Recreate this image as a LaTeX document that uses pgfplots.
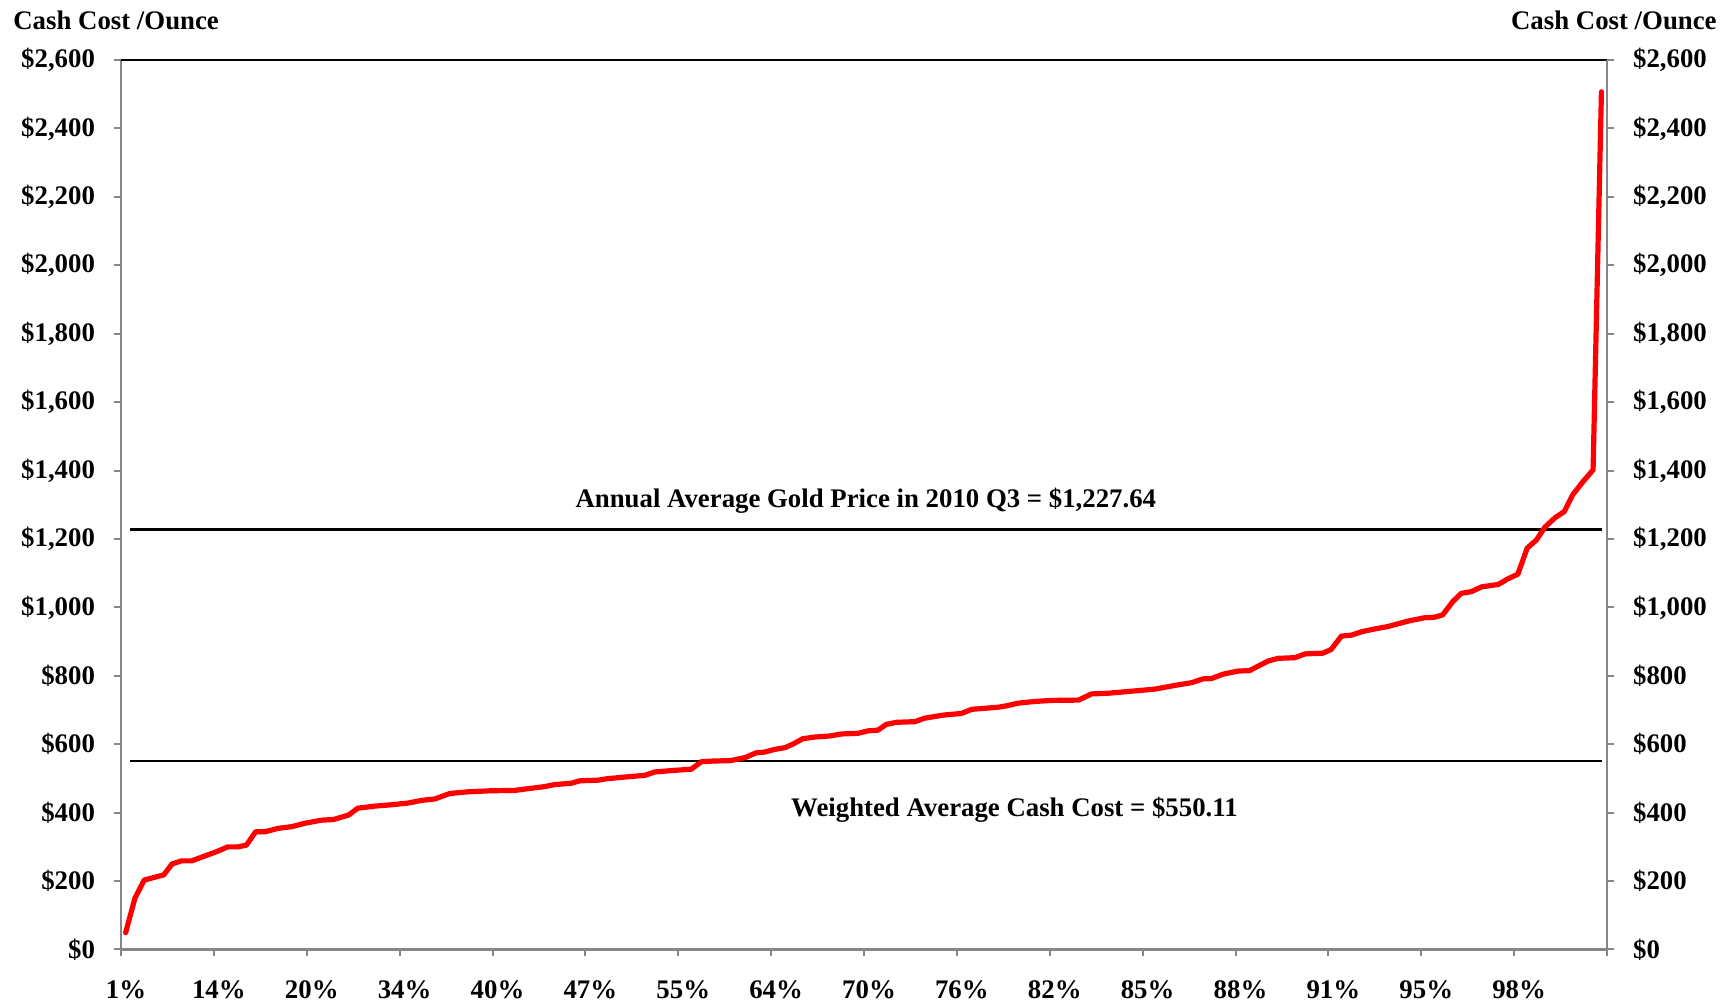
\documentclass[border=0pt]{standalone}
\usepackage{pgfplots}
\pgfplotsset{compat=1.18}
\usepackage{fontspec}
\setmainfont{Liberation Serif}
\definecolor{axgray}{RGB}{134,134,134}
\begin{document}
\begin{tikzpicture}[font=\fontsize{13.4}{15}\selectfont\bfseries]
\pgfplotsset{
 common/.style={
  at={(0,0)}, anchor=south west, scale only axis, width=743pt, height=444.75pt,
  xmin=0, xmax=16, ymin=0, ymax=2600,
  ytick={0,200,...,2600},
  yticklabel={\$\pgfmathprintnumber{\tick}},
  /pgf/number format/fixed, /pgf/number format/precision=0,
  /pgf/number format/1000 sep={,}, /pgf/number format/assume math mode=true,
  tick align=outside, major tick length=3.5pt,
  tick style={color=axgray, line width=1pt},
  axis line style={color=axgray, line width=1.1pt},
  ticklabel style={font=\fontsize{13.4}{15}\selectfont\bfseries},
 }}
\begin{axis}[common,
  axis x line*=bottom, axis y line*=left,
  xtick={0,...,16},
  xticklabels={1\%,14\%,20\%,34\%,40\%,47\%,55\%,64\%,70\%,76\%,82\%,85\%,88\%,91\%,95\%,98\%,{}},
  xticklabel style={yshift=-8.75pt, xshift=2.5pt},
  yticklabel style={xshift=-6pt},
]
\addplot[black, line width=1.2pt] coordinates {(0.1,1227.64) (15.95,1227.64)};
\addplot[black, line width=1.2pt] coordinates {(0.1,550.11) (15.95,550.11)};
\addplot[red, line width=2.6pt, line join=round, line cap=round] coordinates {
(0.05,49) (0.15,150) (0.25,203) (0.46,218) (0.55,250) (0.65,259) (0.76,259)
(0.90,273) (1.03,286) (1.15,300) (1.26,300) (1.35,305) (1.45,344) (1.55,344)
(1.69,354) (1.84,359) (1.98,369) (2.16,378) (2.29,380) (2.45,393) (2.55,413)
(2.73,419) (2.91,423) (3.09,428) (3.24,436) (3.38,440) (3.54,456) (3.74,461)
(3.99,464) (4.24,465) (4.38,470) (4.56,476) (4.67,482) (4.85,486) (4.94,493)
(5.14,495) (5.23,499) (5.46,505) (5.64,509) (5.75,519) (5.93,523) (6.14,527)
(6.25,549) (6.39,551) (6.56,552) (6.72,561) (6.84,575) (6.93,577) (7.04,585)
(7.15,590) (7.24,601) (7.34,616) (7.47,621) (7.63,624) (7.76,630) (7.94,632)
(8.04,639) (8.15,641) (8.24,658) (8.35,664) (8.55,666) (8.65,676) (8.85,685)
(9.05,690) (9.16,702) (9.44,708) (9.53,712) (9.66,720) (9.84,725) (10.02,728)
(10.31,729) (10.45,747) (10.63,749) (10.84,754) (11.13,761) (11.35,772)
(11.53,780) (11.65,791) (11.74,792) (11.87,805) (12.03,814) (12.15,815)
(12.35,843) (12.46,851) (12.64,853) (12.75,864) (12.94,866) (13.03,877)
(13.14,916) (13.25,919) (13.36,929) (13.50,937) (13.64,944) (13.86,960)
(14.04,970) (14.14,971) (14.23,978) (14.34,1017) (14.43,1041) (14.54,1046)
(14.65,1060) (14.83,1067) (14.93,1083) (15.04,1097) (15.14,1173) (15.24,1197)
(15.33,1234) (15.44,1262) (15.54,1280) (15.63,1329) (15.74,1367) (15.85,1402)
(15.94,2507)
};
\draw[black, line width=1.1pt] (axis cs:0,2600) -- (axis cs:16,2600);
\node at (axis cs:8.02,1311) {Annual Average Gold Price in 2010 Q3 = \$1,227.64};
\node at (axis cs:9.62,409) {Weighted Average Cash Cost = \$550.11};
\end{axis}
\begin{axis}[common,
  axis x line=none, axis y line*=right,
  yticklabel style={xshift=6pt},
]
\end{axis}
\node[anchor=west, inner sep=0pt] at (-54pt,464.75pt) {Cash Cost /Ounce};
\node[anchor=east, inner sep=0pt] at (798pt,464.75pt) {Cash Cost /Ounce};
\pgfresetboundingbox
\path[use as bounding box] (-60.5pt,-27.25pt) rectangle (806.5pt,474.75pt);
\end{tikzpicture}
\end{document}
